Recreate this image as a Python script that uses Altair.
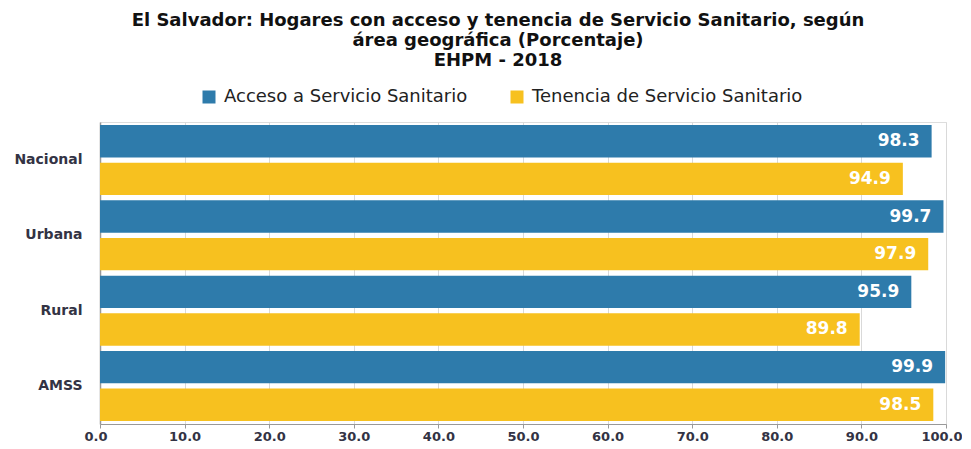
import altair as alt
import pandas as pd

areas = ["Nacional", "Urbana", "Rural", "AMSS"]
series = ["Acceso a Servicio Sanitario", "Tenencia de Servicio Sanitario"]
acceso = [98.3, 99.7, 95.9, 99.9]
tenencia = [94.9, 97.9, 89.8, 98.5]
colors = ["#2E7BAB", "#F7C11F"]

rows = []
for a, v in zip(areas, acceso):
    rows.append({"area": a, "serie": series[0], "valor": v})
for a, v in zip(areas, tenencia):
    rows.append({"area": a, "serie": series[1], "valor": v})
df = pd.DataFrame(rows)

font = "DejaVu Sans"

y = alt.Y("area:N", sort=areas, title=None,
          scale=alt.Scale(paddingInner=0.07, paddingOuter=0.04),
          axis=alt.Axis(labelFontWeight="bold", labelFontSize=14, labelColor="#333344",
                        labelFont=font, ticks=False, labelPadding=18, minExtent=92,
                        domainColor="#999999", domainWidth=1.5))
yoff = alt.YOffset("serie:N", sort=series, scale=alt.Scale(paddingInner=0.14, paddingOuter=0))

bars = alt.Chart(df).mark_bar().encode(
    x=alt.X("valor:Q", title=None,
            scale=alt.Scale(domain=[0, 100], nice=False),
            axis=alt.Axis(values=list(range(0, 101, 10)), format=".1f",
                          labelFlush=True, labelFlushOffset=16,
                          labelFontWeight="bold", labelFontSize=13, labelColor="#333344",
                          labelFont=font, gridColor="#D9D9D9", domainColor="#999999",
                          tickColor="#999999", tickSize=4, labelPadding=2)),
    y=y,
    yOffset=yoff,
    color=alt.Color("serie:N", sort=series,
                    scale=alt.Scale(domain=series, range=colors),
                    legend=alt.Legend(title=None, orient="none", legendX=100, legendY=-34,
                                      direction="horizontal", symbolType="square",
                                      symbolSize=169, symbolStrokeWidth=0,
                                      labelFontSize=18, labelFont=font, labelColor="#222222",
                                      labelLimit=400, columnPadding=40, symbolOffset=0,
                                      labelOffset=6)),
)

labels = alt.Chart(df).mark_text(align="right", baseline="middle", dx=-12,
                                 color="white", fontWeight="bold", fontSize=17,
                                 font=font).encode(
    x="valor:Q",
    y=alt.Y("area:N", sort=areas),
    yOffset=alt.YOffset("serie:N", sort=series),
    text=alt.Text("valor:Q", format=".1f"),
)

chart = (bars + labels).properties(
    width=846, height=302,
    padding={"top": 4, "left": 0, "right": 0, "bottom": 0},
    title=alt.TitleParams(
        text=["El Salvador: Hogares con acceso y tenencia de Servicio Sanitario, según",
              "área geográfica (Porcentaje)", "EHPM - 2018"],
        font=font, fontSize=18, fontWeight="bold", color="#111111",
        anchor="middle", dx=-25, offset=18, lineHeight=20),
).configure_view(stroke=None).configure(background="white")

chart.save("out.html", embed_options={"renderer": "svg", "actions": False})
